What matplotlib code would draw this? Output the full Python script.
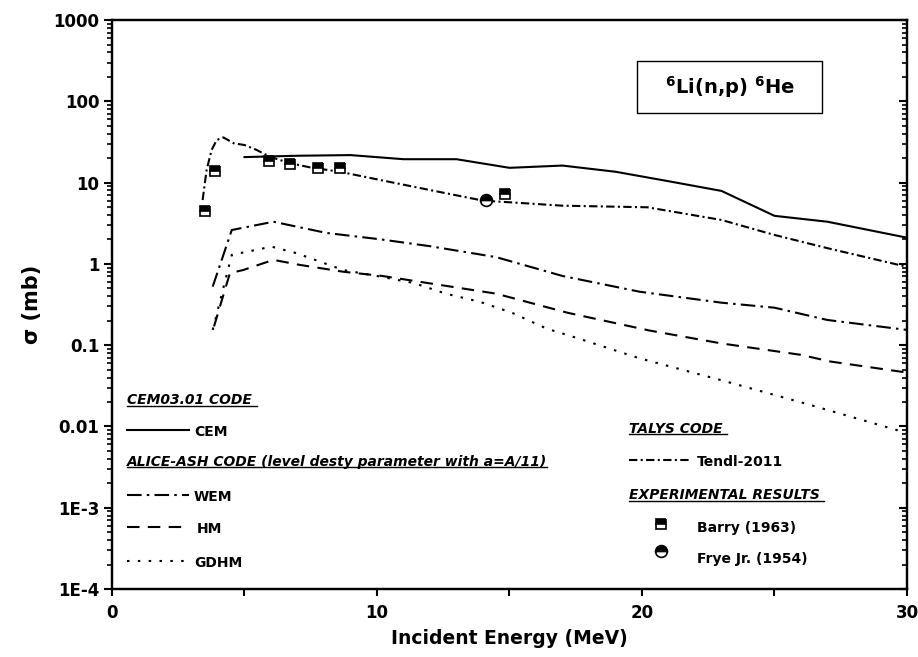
import matplotlib
matplotlib.use('Agg')
import matplotlib.pyplot as plt
import matplotlib.patches as patches
from matplotlib.ticker import FixedLocator, FixedFormatter, LogLocator, NullFormatter

plt.rcParams['font.family'] = ['DejaVu Sans']
plt.rcParams['mathtext.default'] = 'bf'

# CEM03.01
cem_e = [5, 7, 9, 11, 13, 15, 17, 19, 21, 23, 25, 27, 30]
cem_s = [20.6, 21.4, 21.8, 19.4, 19.4, 15.2, 16.2, 13.6, 10.4, 7.9, 3.9, 3.3, 2.1]

# TALYS Tendl-2011
tendl_e = [3.42, 3.57, 3.76, 3.95, 4.2, 4.6, 5.0, 5.46, 5.96, 6.72, 7.47, 8.6,
           10.1, 12, 14, 15.1, 17, 20.2, 23, 25, 27, 30]
tendl_s = [6.1, 14.3, 25.2, 33.4, 36, 30.4, 29, 25.2, 20.8, 17.3, 15.4, 13.6,
           10.8, 8.1, 6.0, 5.7, 5.2, 4.97, 3.47, 2.27, 1.56, 0.92]

# ALICE-ASH
wem_e = [3.8, 4.52, 6.09, 8.1, 10.1, 12, 14.5, 17, 19.9, 23, 25, 27, 30]
wem_s = [0.525, 2.61, 3.30, 2.40, 2.01, 1.65, 1.21, 0.71, 0.455, 0.333, 0.289, 0.204, 0.154]

hm_e = [3.85, 4.45, 4.95, 6.09, 7.1, 8.73, 10.2, 14.5, 17.2, 20.3, 23, 26, 27.1, 30]
hm_s = [0.17, 0.77, 0.84, 1.12, 0.97, 0.80, 0.71, 0.43, 0.25, 0.151, 0.105, 0.076, 0.063, 0.046]

gdhm_e = [3.8, 4.52, 6.02, 6.97, 8.73, 10.1, 11.4, 12.6, 13.9, 15.1, 16.4, 17.7, 19.9, 23, 26.2, 30]
gdhm_s = [0.154, 1.29, 1.63, 1.35, 0.84, 0.70, 0.58, 0.43, 0.34, 0.25, 0.16, 0.118, 0.069, 0.037, 0.019, 0.0083]

# experiments
barry_e = [3.51, 3.89, 5.92, 6.72, 7.76, 8.6, 14.84]
barry_s = [4.5, 14.0, 18.5, 16.8, 15.1, 15.0, 7.2]
frye_e = [14.1]
frye_s = [6.1]

y_ticks = [1e-4, 1e-3, 1e-2, 0.1, 1, 10, 100, 1000]
y_labels = ['1E-4', '1E-3', '0.01', '0.1', '1', '10', '100', '1000']

LS = dict(
    cem='-',
    tendl=(0, (4, 1.6, 1, 1.6)),
    wem=(0, (7, 2.5, 1.2, 2.5)),
    hm=(0, (6, 4)),
    gdhm=(0, (1.2, 4)),
)
LW = 1.5
sq_kw = dict(marker='s', ms=7.5, fillstyle='top', mfc='k', mfcalt='w', mec='k', mew=1.2, ls='none')
ci_kw = dict(marker='o', ms=8.5, fillstyle='top', mfc='k', mfcalt='w', mec='k', mew=1.2, ls='none')


def main() -> None:
    fig = plt.figure(figsize=(9.18, 6.57), dpi=100)
    ax = fig.add_axes([0.122, 0.1035, 0.866, 0.866])

    ax.plot(cem_e, cem_s, color='k', lw=LW, ls=LS['cem'])
    ax.plot(tendl_e, tendl_s, color='k', lw=LW, ls=LS['tendl'])
    ax.plot(wem_e, wem_s, color='k', lw=LW, ls=LS['wem'])
    ax.plot(hm_e, hm_s, color='k', lw=LW, ls=LS['hm'])
    ax.plot(gdhm_e, gdhm_s, color='k', lw=LW, ls=LS['gdhm'])
    ax.plot(barry_e, barry_s, **sq_kw)
    ax.plot(frye_e, frye_s, **ci_kw)

    ax.set_yscale('log')
    ax.set_xlim(0, 30)
    ax.set_ylim(1e-4, 1000)

    ax.xaxis.set_major_locator(FixedLocator([0, 10, 20, 30]))
    ax.xaxis.set_minor_locator(FixedLocator([5, 15, 25]))
    ax.yaxis.set_major_locator(FixedLocator(y_ticks))
    ax.yaxis.set_major_formatter(FixedFormatter(y_labels))
    ax.yaxis.set_minor_locator(LogLocator(base=10, subs=range(2, 10), numticks=20))
    ax.yaxis.set_minor_formatter(NullFormatter())

    ax.tick_params(axis='x', which='both', direction='out', length=5, width=1.5,
                   top=False, labelsize=12, pad=6)
    ax.tick_params(axis='y', which='major', direction='out', length=6, width=1.5,
                   right=False, labelsize=12, pad=3)
    ax.tick_params(axis='y', which='minor', direction='out', length=3.5, width=1.2, right=False)
    for lab in ax.get_xticklabels() + ax.get_yticklabels():
        lab.set_fontweight('bold')

    # inward ticks on the right side
    ax2 = ax.twinx()
    ax2.set_yscale('log')
    ax2.set_ylim(ax.get_ylim())
    ax2.yaxis.set_major_locator(FixedLocator(y_ticks))
    ax2.yaxis.set_minor_locator(LogLocator(base=10, subs=range(2, 10), numticks=20))
    ax2.tick_params(axis='y', which='major', direction='in', length=6, width=1.5, labelright=False)
    ax2.tick_params(axis='y', which='minor', direction='in', length=3.5, width=1.2)
    ax2.yaxis.set_minor_formatter(NullFormatter())

    for a in (ax, ax2):
        for s in a.spines.values():
            s.set_linewidth(1.6)

    ax.set_xlabel('Incident Energy (MeV)', fontsize=13.5, fontweight='bold', labelpad=5)
    ax.set_ylabel('σ (mb)', fontsize=15, fontweight='bold', labelpad=8)

    # title box
    box = patches.Rectangle((0.660, 0.8366), 0.233, 0.0914, transform=ax.transAxes,
                            fc='w', ec='k', lw=1.0, zorder=4)
    ax.add_patch(box)
    ax.text(0.777, 0.882, r'$^{6}$Li(n,p) $^{6}$He', transform=ax.transAxes,
            ha='center', va='center', fontsize=14, fontweight='bold', zorder=5)

    # hand made legend
    tkw = dict(transform=ax.transAxes, va='center', fontsize=10, fontweight='bold')
    hkw = dict(transform=ax.transAxes, va='center', fontsize=10, fontweight='bold', style='italic')
    heads = [
        (0.019, 0.332, 'CEM03.01 CODE '),
        (0.019, 0.224, 'ALICE-ASH CODE (level desty parameter with a=A/11)'),
        (0.650, 0.282, 'TALYS CODE '),
        (0.650, 0.165, 'EXPERIMENTAL RESULTS '),
    ]
    head_txt = [ax.text(x, y, s, **hkw) for x, y, s in heads]

    rows = [
        (0.019, 0.097, 0.280, 0.103, 'CEM', 'cem'),
        (0.019, 0.097, 0.165, 0.103, 'WEM', 'wem'),
        (0.019, 0.097, 0.109, 0.107, 'HM', 'hm'),
        (0.019, 0.097, 0.050, 0.103, 'GDHM', 'gdhm'),
        (0.650, 0.726, 0.227, 0.736, 'Tendl-2011', 'tendl'),
    ]
    for x0, x1, y, xt, s, key in rows:
        ax.plot([x0, x1], [y, y], transform=ax.transAxes, color='k', lw=LW,
                ls=LS[key], clip_on=False)
        ax.text(xt, y - 0.004, s, **tkw)

    ax.plot([0.691], [0.115], transform=ax.transAxes, clip_on=False, **sq_kw)
    ax.text(0.736, 0.108, 'Barry (1963)', **tkw)
    ax.plot([0.691], [0.066], transform=ax.transAxes, clip_on=False, **ci_kw)
    ax.text(0.736, 0.053, 'Frye Jr. (1954)', **tkw)

    # underline the group headings
    fig.canvas.draw()
    renderer = fig.canvas.get_renderer()
    inv = ax.transAxes.inverted()
    for t in head_txt:
        bb = t.get_window_extent(renderer)
        (xa, ya), (xb, yb) = inv.transform([(bb.x0, bb.y0), (bb.x1, bb.y1)])
        ax.plot([xa, xb], [ya + 0.002, ya + 0.002], transform=ax.transAxes,
                color='k', lw=1.0, clip_on=False)

    plt.savefig('out.png', dpi=100)
    plt.close()


if __name__ == '__main__':
    main()
